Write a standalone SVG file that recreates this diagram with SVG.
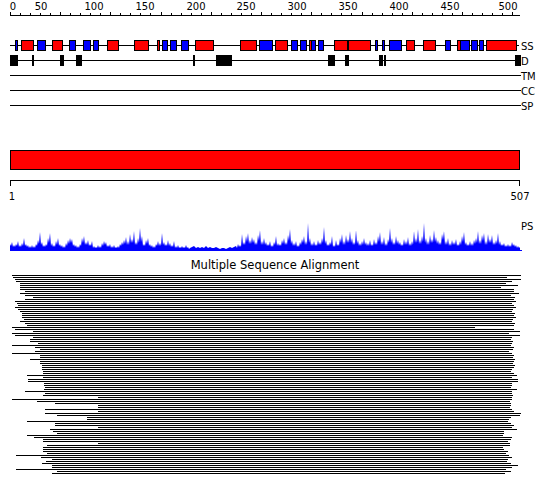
<svg xmlns="http://www.w3.org/2000/svg" width="550" height="495" viewBox="0 0 550 495">
<style>
text{font-family:"DejaVu Sans",sans-serif;font-size:10px;fill:#000}
.ln{stroke:#000;stroke-width:1;fill:none}
.h{fill:#f00;stroke:#000;stroke-width:1}
.e{fill:#00f;stroke:#000;stroke-width:1}
.d{fill:#000}
</style>
<rect width="550" height="495" fill="#fff"/>
<g id="ruler">
<path class="ln" d="M10 15.5H520M10.5 12V15M20.5 13V15M30.5 13V15M40.5 13V15M50.5 13V15M60.5 12V15M70.5 13V15M80.5 13V15M90.5 13V15M100.5 13V15M110.5 12V15M120.5 13V15M130.5 13V15M140.5 13V15M150.5 13V15M161.5 12V15M171.5 13V15M181.5 13V15M191.5 13V15M201.5 13V15M211.5 12V15M221.5 13V15M231.5 13V15M241.5 13V15M251.5 13V15M261.5 12V15M271.5 13V15M281.5 13V15M291.5 13V15M301.5 13V15M311.5 12V15M321.5 13V15M331.5 13V15M341.5 13V15M351.5 13V15M362.5 12V15M372.5 13V15M382.5 13V15M392.5 13V15M402.5 13V15M412.5 12V15M422.5 13V15M432.5 13V15M442.5 13V15M452.5 13V15M462.5 12V15M472.5 13V15M482.5 13V15M492.5 13V15M502.5 13V15M512.5 12V15"/>
<text x="13" y="10" text-anchor="middle">0</text>
<text x="41" y="10" text-anchor="middle">50</text>
<text x="94" y="10" text-anchor="middle">100</text>
<text x="145" y="10" text-anchor="middle">150</text>
<text x="196" y="10" text-anchor="middle">200</text>
<text x="246" y="10" text-anchor="middle">250</text>
<text x="297" y="10" text-anchor="middle">300</text>
<text x="348" y="10" text-anchor="middle">350</text>
<text x="399" y="10" text-anchor="middle">400</text>
<text x="450" y="10" text-anchor="middle">450</text>
<text x="508" y="10" text-anchor="middle">500</text>
</g>
<g id="track-SS">
<path class="ln" d="M10 45.5H519"/>
<rect class="e" x="15.5" y="40.5" width="2" height="10"/>
<rect class="h" x="21.5" y="40.5" width="12" height="10"/>
<rect class="e" x="37.5" y="40.5" width="8" height="10"/>
<rect class="h" x="52.5" y="40.5" width="10" height="10"/>
<rect class="e" x="69.5" y="40.5" width="6" height="10"/>
<rect class="e" x="83.5" y="40.5" width="7" height="10"/>
<rect class="e" x="93.5" y="40.5" width="5" height="10"/>
<rect class="h" x="107.5" y="40.5" width="11" height="10"/>
<rect class="h" x="134.5" y="40.5" width="14" height="10"/>
<rect class="h" x="157.5" y="40.5" width="2" height="10"/>
<rect class="e" x="162.5" y="40.5" width="5" height="10"/>
<rect class="e" x="170.5" y="40.5" width="6" height="10"/>
<rect class="e" x="181.5" y="40.5" width="7" height="10"/>
<rect class="h" x="195.5" y="40.5" width="18" height="10"/>
<rect class="h" x="240.5" y="40.5" width="16" height="10"/>
<rect class="e" x="259.5" y="40.5" width="13" height="10"/>
<rect class="h" x="275.5" y="40.5" width="12" height="10"/>
<rect class="e" x="291.5" y="40.5" width="6" height="10"/>
<rect class="e" x="300.5" y="40.5" width="6" height="10"/>
<rect class="h" x="309.5" y="40.5" width="2" height="10"/>
<rect class="e" x="311.5" y="40.5" width="4" height="10"/>
<rect class="e" x="318.5" y="40.5" width="5" height="10"/>
<rect class="h" x="334.5" y="40.5" width="13" height="10"/>
<rect class="h" x="348.5" y="40.5" width="22" height="10"/>
<rect class="e" x="375.5" y="40.5" width="2" height="10"/>
<rect class="e" x="382.5" y="40.5" width="2" height="10"/>
<rect class="e" x="389.5" y="40.5" width="12" height="10"/>
<rect class="h" x="406.5" y="40.5" width="8" height="10"/>
<rect class="h" x="423.5" y="40.5" width="12" height="10"/>
<rect class="e" x="445.5" y="40.5" width="5" height="10"/>
<rect class="h" x="457.5" y="40.5" width="3" height="10"/>
<rect class="e" x="460.5" y="40.5" width="9" height="10"/>
<rect class="e" x="471.5" y="40.5" width="6" height="10"/>
<rect class="e" x="479.5" y="40.5" width="4" height="10"/>
<rect class="h" x="486.5" y="40.5" width="30" height="10"/>
<text x="521" y="49.5">SS</text>
</g>
<g id="track-D">
<path class="ln" d="M10 60.5H519"/>
<rect class="d" x="10" y="55" width="8" height="11"/>
<rect class="d" x="32" y="55" width="2" height="11"/>
<rect class="d" x="60" y="55" width="4" height="11"/>
<rect class="d" x="76" y="55" width="6" height="11"/>
<rect class="d" x="193" y="55" width="2" height="11"/>
<rect class="d" x="216" y="55" width="16" height="11"/>
<rect class="d" x="328" y="55" width="7" height="11"/>
<rect class="d" x="345" y="55" width="4" height="11"/>
<rect class="d" x="379" y="55" width="4" height="11"/>
<rect class="d" x="384" y="55" width="2" height="11"/>
<rect class="d" x="515" y="55" width="6" height="11"/>
<text x="521" y="65">D</text>
</g>
<g id="track-TM"><path class="ln" d="M10 75.5H521"/><text x="521" y="80">TM</text></g>
<g id="track-CC"><path class="ln" d="M10 90.5H521"/><text x="521" y="95">CC</text></g>
<g id="track-SP"><path class="ln" d="M10 105.5H521"/><text x="521" y="110">SP</text></g>
<g id="domain-bar"><rect class="h" x="10.5" y="150.5" width="509" height="19"/></g>
<g id="ruler2">
<path class="ln" d="M10 180.5H520M10.5 180V186M519.5 180V186"/>
<text x="12" y="200" text-anchor="middle">1</text>
<text x="520" y="200" text-anchor="middle">507</text>
</g>
<g id="ps-plot">
<path fill="#00f" stroke="none" d="M10 250L10 244 11 246 12 242 13 247 14 245 15 247 16 244 17 246 18 241 19 247 20 245 21 247 22 243 23 246 24 238 25 246 26 244 27 247 28 245 29 248 30 246 31 248 32 245 33 248 34 246 35 248 36 244 37 246 38 240 39 244 40 232 41 245 42 242 43 247 44 245 45 247 46 244 47 246 48 238 49 243 50 233 51 246 52 243 53 247 54 245 55 247 56 241 57 245 58 238 59 246 60 244 61 247 62 245 63 248 64 246 65 248 66 243 67 246 68 240 69 244 70 238 71 243 72 239 73 246 74 244 75 247 76 245 77 248 78 246 79 248 80 244 81 246 82 238 83 243 84 236 85 245 86 242 87 245 88 240 89 246 90 244 91 246 92 241 93 248 94 246 95 248 96 247 97 248 98 245 99 248 100 246 101 248 102 243 103 246 104 241 105 245 106 242 107 247 108 245 109 247 110 244 111 248 112 246 113 248 114 245 115 248 116 247 117 248 118 246 119 248 120 244 121 246 122 242 123 245 124 240 125 244 126 237 127 245 128 241 129 245 130 234 131 243 132 239 133 243 134 231 135 245 136 242 137 245 138 238 139 243 140 228 141 242 142 236 143 246 144 244 145 246 146 240 147 244 148 238 149 246 150 244 151 247 152 245 153 248 154 246 155 248 156 244 157 246 158 241 159 246 160 243 161 246 162 233 163 245 164 242 165 246 166 244 167 246 168 240 169 246 170 243 171 247 172 245 173 247 174 241 175 248 176 246 177 248 178 245 179 248 180 247 181 248 182 246 183 248 184 247 185 248 186 245 187 248 188 247 189 249 190 248 192 247 194 246 196 248 198 247 200 248 202 247 204 248 206 246 208 248 210 247 212 248 214 248 216 247 218 248 220 249 222 248 224 248 226 249 228 248 230 247 232 248 234 247 236 246 237 248 238 244 239 247 240 245 241 247 242 234 243 245 244 242 245 245 246 236 247 242 248 233 249 244 250 240 251 244 252 237 253 243 254 239 255 245 256 242 257 245 258 235 259 241 260 230 261 245 262 241 263 245 264 238 265 245 266 242 267 246 268 244 269 246 270 241 271 247 272 245 273 247 274 242 275 245 276 236 277 246 278 243 279 246 280 244 281 246 282 240 283 244 284 238 285 245 286 242 287 245 288 235 289 241 290 229 291 244 292 240 293 246 294 243 295 246 296 241 297 247 298 245 299 247 300 242 301 245 302 239 303 243 304 236 305 245 306 241 307 245 308 223 309 243 310 238 311 246 312 243 313 246 314 241 315 246 316 244 317 246 318 240 319 245 320 242 321 245 322 238 323 243 324 227 325 244 326 240 327 246 328 244 329 246 330 242 331 245 332 236 333 247 334 245 335 247 336 240 337 246 338 244 339 246 340 238 341 243 342 234 343 245 344 241 345 245 346 235 347 243 348 239 349 243 350 231 351 243 352 238 353 245 354 242 355 245 356 230 357 244 358 240 359 246 360 243 361 246 362 241 363 245 364 238 365 245 366 242 367 246 368 243 369 246 370 240 371 246 372 244 373 246 374 239 375 245 376 242 377 245 378 236 379 242 380 232 381 245 382 241 383 245 384 237 385 246 386 243 387 246 388 239 389 243 390 228 391 243 392 238 393 245 394 242 395 245 396 236 397 244 398 240 399 245 400 242 401 246 402 244 403 246 404 239 405 245 406 241 407 245 408 237 409 246 410 243 411 246 412 241 413 245 414 231 415 243 416 238 417 243 418 229 419 244 420 240 421 244 422 236 423 242 424 223 425 243 426 238 427 245 428 241 429 245 430 235 431 243 432 239 433 243 434 230 435 242 436 237 437 244 438 240 439 245 440 242 441 245 442 234 443 240 444 231 445 245 446 241 447 245 448 238 449 246 450 243 451 246 452 240 453 245 454 242 455 245 456 239 457 246 458 244 459 246 460 241 461 245 462 236 463 242 464 232 465 245 466 242 467 246 468 244 469 246 470 241 471 246 472 243 473 246 474 240 475 244 476 238 477 243 478 231 479 244 480 240 481 244 482 235 483 241 484 233 485 245 486 241 487 245 488 234 489 243 490 239 491 243 492 235 493 245 494 242 495 245 496 240 497 244 498 233 499 245 500 241 501 246 502 244 503 246 504 243 505 247 506 245 507 247 508 244 509 247 510 245 511 247 512 242 513 246 514 244 515 247 516 245 517 248 518 246 519 248 520 247 520 250Z"/>
<path d="M10 250.5H522" stroke="#00f" stroke-width="1"/>
<text x="521" y="230">PS</text>
</g>
<g id="msa">
<text x="275" y="269" text-anchor="middle" style="font-size:11.5px">Multiple Sequence Alignment</text>
<path class="ln" d="M12 275.5H521M13 277.5H507M15 279.5H521M16 281.5H512M20 283.5H506M20 285.5H518M20 287.5H501M20 289.5H514M25 291.5H514M20 293.5H519M25 295.5H511M33 297.5H515M25 299.5H514M15 301.5H516M17 303.5H512M18 305.5H514M15 307.5H516M18 309.5H513M20 311.5H512M22 313.5H515M22 315.5H514M22 317.5H516M24 319.5H513M20 321.5H512M25 323.5H515M27 325.5H514M12 327.5H475M15 329.5H514M33 331.5H520M12 333.5H509M15 335.5H520M33 337.5H512M30 339.5H511M30 341.5H513M38 343.5H512M12 345.5H511M35 347.5H514M40 349.5H513M35 351.5H509M12 353.5H512M40 355.5H514M40 357.5H513M30 359.5H515M40 361.5H514M40 363.5H513M42 365.5H515M42 367.5H514M42 369.5H512M43 371.5H511M43 373.5H514M27 375.5H517M43 377.5H512M28 379.5H518M28 381.5H518M44 383.5H512M44 385.5H512M45 387.5H511M44 389.5H517M25 391.5H512M45 393.5H512M43 395.5H513M98 397.5H512M12 399.5H512M37 401.5H510M55 403.5H511M98 405.5H511M98 407.5H510M45 409.5H512M98 411.5H514M45 413.5H521M57 415.5H520M87 417.5H511M87 419.5H509M27 421.5H508M55 423.5H511M55 425.5H514M98 427.5H512M50 429.5H517M53 431.5H504M57 433.5H504M27 435.5H503M34 437.5H512M43 439.5H511M43 441.5H508M98 443.5H510M47 445.5H510M43 447.5H503M43 449.5H504M43 451.5H508M47 453.5H506M16 455.5H509M41 457.5H512M52 459.5H508M46 461.5H507M42 463.5H511M52 465.5H518M52 467.5H512M16 469.5H506M57 471.5H511M52 473.5H505"/>
</g>
</svg>
